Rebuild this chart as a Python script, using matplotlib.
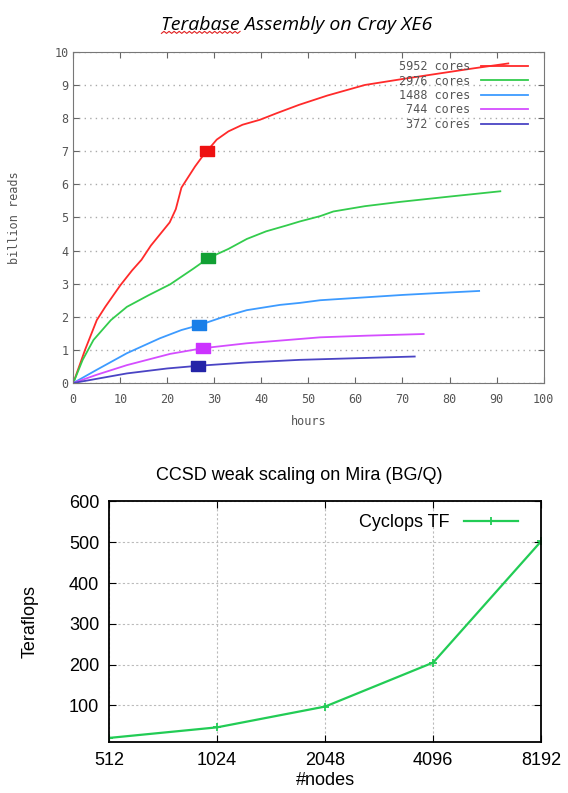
import numpy as np
import matplotlib
matplotlib.use("Agg")
import matplotlib.pyplot as plt
from matplotlib.lines import Line2D

# ---- top chart: Terabase assembly (hours vs billion reads)
series_names = ['5952 cores', '2976 cores', '1488 cores', '744 cores', '372 cores']

red_h = [0, 2.5, 5, 6.8, 10, 12.5, 14.5, 16.5, 18.5, 20.5, 21.8, 23, 25.9, 27.5, 28.4, 30.5, 33, 36, 39.7, 43.3, 48, 54, 62, 70, 77, 85, 92.5]
red_v = [0, 1.0, 1.9, 2.3, 2.95, 3.4, 3.72, 4.15, 4.5, 4.85, 5.25, 5.9, 6.54, 6.85, 7.0, 7.35, 7.6, 7.8, 7.95, 8.15, 8.4, 8.68, 9.0, 9.18, 9.33, 9.5, 9.65]

green_h = [0, 2, 4.3, 8, 11.4, 16, 20.6, 25.5, 28.7, 33, 36.9, 41, 45.4, 48.2, 52.5, 55.3, 62, 69.5, 80, 90.8]
green_v = [0, 0.7, 1.3, 1.9, 2.3, 2.65, 2.98, 3.45, 3.77, 4.05, 4.35, 4.58, 4.76, 4.88, 5.04, 5.18, 5.34, 5.47, 5.63, 5.79]

blue_h = [0, 5, 11.4, 18.4, 23, 26.8, 32, 36.9, 44, 48.2, 52.5, 62.4, 70, 76.6, 86.3]
blue_v = [0, 0.4, 0.9, 1.35, 1.6, 1.75, 2.0, 2.2, 2.36, 2.42, 2.5, 2.59, 2.66, 2.71, 2.78]

mag_h = [0, 5, 11.4, 20.6, 27.5, 36.9, 48.2, 52.5, 62.4, 74.5]
mag_v = [0, 0.25, 0.54, 0.88, 1.05, 1.2, 1.33, 1.38, 1.43, 1.48]

dark_h = [0, 11.4, 20, 26.5, 36.9, 48.2, 60.3, 72.6]
dark_v = [0, 0.29, 0.44, 0.52, 0.62, 0.7, 0.75, 0.8]

# checkpoint squares
sq_h = [28.4, 28.7, 26.8, 27.5, 26.5]
sq_v = [7.0, 3.77, 1.75, 1.05, 0.52]

# ---- bottom chart: CCSD weak scaling
nodes = [512, 1024, 2048, 4096, 8192]
tflops = [20, 46, 97, 205, 503]

line_colors = ['#ff2a2a', '#33cc4d', '#3d9bff', '#d44dff', '#4a44c4']
square_colors = ['#ee1111', '#11a033', '#1a7fe8', '#cc33ff', '#2424a8']
grey = '#666666'

fig = plt.figure(figsize=(5.68, 7.93), dpi=100)

ax1 = fig.add_axes([0.129, 0.517, 0.828, 0.4176])
all_h = [red_h, green_h, blue_h, mag_h, dark_h]
all_v = [red_v, green_v, blue_v, mag_v, dark_v]
for h, v, c, name in zip(all_h, all_v, line_colors, series_names):
    ax1.plot(h, v, color=c, lw=1.3, label=name)

rect = [(-1, -0.75), (1, -0.75), (1, 0.75), (-1, 0.75), (-1, -0.75)]
for x, y, c in zip(sq_h, sq_v, square_colors):
    ax1.plot([x], [y], marker=rect, ms=10, color=c, mec=c, ls='none')

ax1.set_xlim(0, 100)
ax1.set_ylim(0, 10)
ax1.set_xticks(np.arange(0, 101, 10))
ax1.set_yticks(np.arange(0, 11, 1))
ax1.yaxis.grid(True, ls=(0, (1, 3)), color='#aaaaaa', lw=1)
ax1.tick_params(direction='in', top=True, right=True, length=4, colors=grey,
                labelsize=8.5, labelcolor='#555555')
ax1.tick_params(axis='x', pad=7)
for s in ax1.spines.values():
    s.set_color('#777777')
for lab in ax1.get_xticklabels() + ax1.get_yticklabels():
    lab.set_family('DejaVu Sans Mono')
ax1.set_xlabel('hours', fontsize=8.5, color='#555555', family='DejaVu Sans Mono', labelpad=7)
ax1.set_ylabel('billion reads', fontsize=8.5, color='#555555', family='DejaVu Sans Mono', labelpad=24)

leg1 = ax1.legend(loc='upper right', frameon=False, markerfirst=False, handlelength=4.0,
                  labelspacing=0.12, borderaxespad=0.3, handletextpad=0.9,
                  bbox_to_anchor=(0.985, 1.0),
                  prop={'family': 'DejaVu Sans Mono', 'size': 8.5})
for t in leg1.get_texts():
    t.set_color('#555555')
    t.set_ha('right')

title1 = fig.text(0.523, 0.968, 'Terabase Assembly on Cray XE6', ha='center', va='center',
                  fontsize=14, style='italic', family='Open Sans')

# ---- bottom chart
ax2 = fig.add_axes([0.192, 0.0643, 0.761, 0.3033])
ax2.plot(nodes, tflops, color='#22cc55', lw=1.6, marker='+', ms=6, mew=1.3, label='Cyclops TF')
ax2.set_xscale('log', base=2)
ax2.set_xlim(512, 8192)
ax2.set_ylim(10, 600)
ax2.set_xticks(nodes)
ax2.set_xticklabels([str(n) for n in nodes])
ax2.minorticks_off()
ax2.set_yticks([100, 200, 300, 400, 500, 600])
ax2.grid(True, ls=(0, (2, 2)), color='#bbbbbb', lw=0.8)
ax2.tick_params(direction='in', top=True, right=True, length=5, labelsize=13, pad=7)
for s in ax2.spines.values():
    s.set_linewidth(1.3)
for lab in ax2.get_xticklabels() + ax2.get_yticklabels():
    lab.set_family('Liberation Sans')
ax2.set_xlabel('#nodes', fontsize=13, family='Liberation Sans', labelpad=2)
ax2.set_ylabel('Teraflops', fontsize=13, family='Liberation Sans', labelpad=22)
ax2.legend(loc='upper right', frameon=False, markerfirst=False, handlelength=3.0,
           borderaxespad=0.3, bbox_to_anchor=(0.975, 1.0),
           prop={'family': 'Liberation Sans', 'size': 13})
fig.text(0.527, 0.401, 'CCSD weak scaling on Mira (BG/Q)', ha='center', va='center',
         fontsize=13, family='Liberation Sans')

# red spell-check squiggle under "Terabase"
fig.canvas.draw()
r = fig.canvas.get_renderer()
bb = title1.get_window_extent(r)
probe = fig.text(0, 0, 'Terabase', fontsize=14, style='italic', family='Open Sans')
w = probe.get_window_extent(r).width
probe.remove()
x0 = bb.x0
n = int(w / 2.5)
xs = np.linspace(x0, x0 + w, n + 1)
ys = bb.y0 + 1 + np.where(np.arange(n + 1) % 2 == 0, 0.0, 2.0)
fig.add_artist(Line2D(xs / fig.bbox.width, ys / fig.bbox.height, color='#e02020', lw=0.8))

fig.savefig('out.png', dpi=100)
